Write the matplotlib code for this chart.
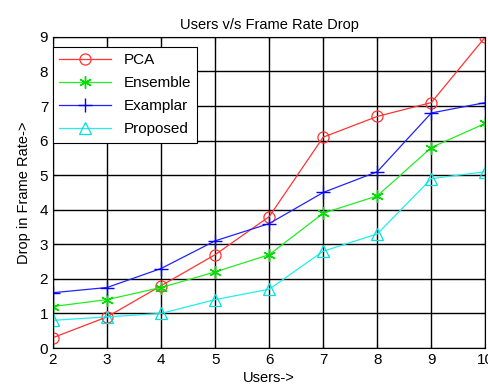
import matplotlib.pyplot as plt

plt.rcParams['font.family'] = ['Liberation Sans', 'DejaVu Sans']

users = [2, 3, 4, 5, 6, 7, 8, 9, 10]
pca = [0.3, 0.9, 1.8, 2.7, 3.8, 6.1, 6.7, 7.1, 9.0]
ensemble = [1.2, 1.4, 1.75, 2.2, 2.7, 3.9, 4.4, 5.8, 6.5]
examplar = [1.6, 1.75, 2.3, 3.1, 3.6, 4.5, 5.1, 6.8, 7.1]
proposed = [0.8, 0.9, 1.0, 1.4, 1.7, 2.8, 3.3, 4.9, 5.1]

fig = plt.figure(figsize=(4.88, 3.85), dpi=100)
ax = fig.add_axes([0.1086, 0.0961, 0.886, 0.808])

# asterisk marker like matlab '*'
ax.plot(users, pca, color='#ff3333', lw=0.9, marker='o', ms=8, mfc='none', mec='#ff3333', mew=0.9, label='PCA')
ax.plot(users, ensemble, color='#22ee22', lw=0.9, marker=(6, 2, 0), ms=9, mec='#00dd00', mew=1.0, label='Ensemble')
ax.plot(users, examplar, color='#2222ff', lw=0.9, marker='+', ms=10, mec='#0000ff', mew=1.0, label='Examplar')
ax.plot(users, proposed, color='#22eeee', lw=0.9, marker='^', ms=8, mfc='none', mec='#00e0e0', mew=0.9, label='Proposed')

ax.set_xlim(2, 10)
ax.set_ylim(0, 9)
ax.set_xticks(users)
ax.set_yticks(range(0, 10))
ax.grid(True, color='black', lw=1.0)
ax.tick_params(direction='in', labelsize=11, length=3, top=True, right=True)
for s in ax.spines.values():
    s.set_linewidth(0.8)

ax.set_title('Users v/s Frame Rate Drop', fontsize=10.5, pad=6)
ax.set_xlabel('Users->', fontsize=10.5, labelpad=3)
ax.set_ylabel('Drop in Frame Rate->', fontsize=10.5, labelpad=6)

leg = ax.legend(loc='upper left', bbox_to_anchor=(0.0, 0.968), borderaxespad=0, fontsize=11,
                fancybox=False, framealpha=1, edgecolor='black', borderpad=0.4,
                labelspacing=0.6, handlelength=3.4)
leg.get_frame().set_linewidth(0.8)

fig.savefig('out.png', dpi=100)
